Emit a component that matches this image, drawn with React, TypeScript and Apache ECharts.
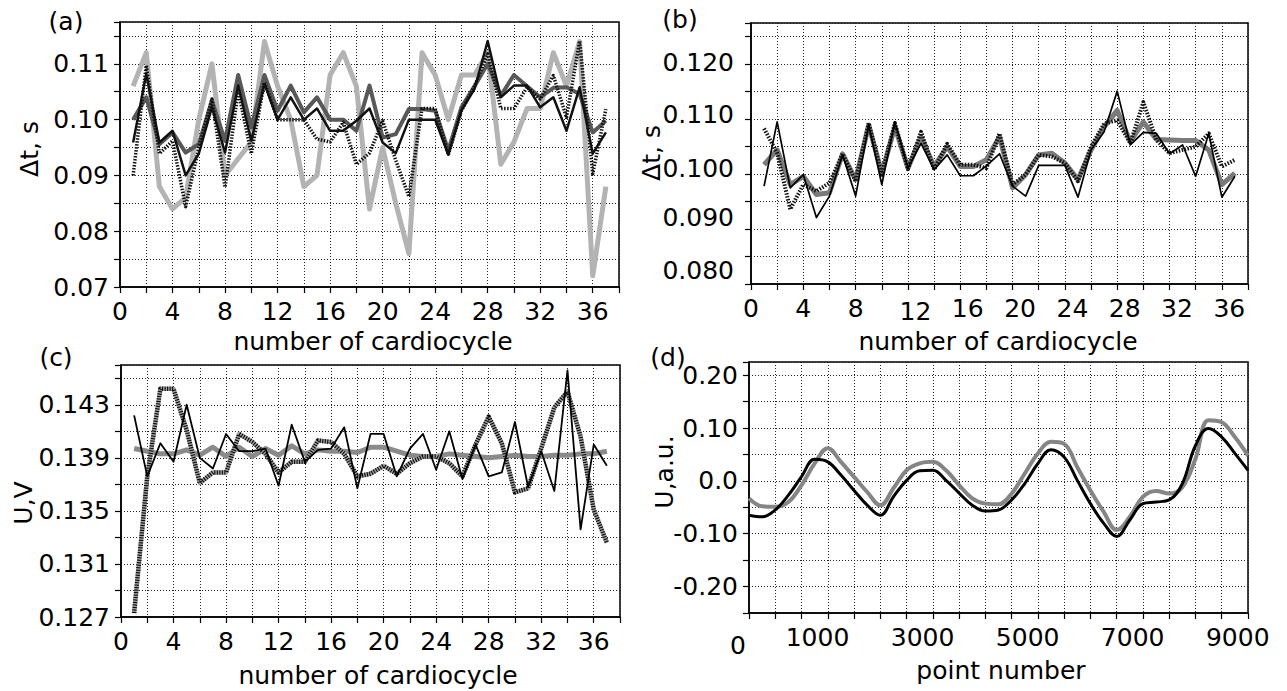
import React, { useEffect, useRef } from "react";
import * as echarts from "echarts";

// ---------- data ----------
const CYCLES = [1, 2, 3, 4, 5, 6, 7, 8, 9, 10, 11, 12, 13, 14, 15, 16, 17, 18, 19, 20, 21, 22, 23, 24, 25, 26, 27, 28, 29, 30, 31, 32, 33, 34, 35, 36, 37];

// panel (a): Δt, s
const A_LIGHT = [0.106, 0.112, 0.088, 0.084, 0.086, 0.100, 0.110, 0.090, 0.093, 0.096, 0.114, 0.106, 0.100, 0.088, 0.090, 0.108, 0.112, 0.106, 0.084, 0.095, 0.085, 0.076, 0.112, 0.108, 0.100, 0.108, 0.108, 0.112, 0.092, 0.096, 0.102, 0.102, 0.112, 0.106, 0.114, 0.072, 0.088];
const A_DARK = [0.100, 0.104, 0.0956, 0.0977, 0.0941, 0.0956, 0.1034, 0.0962, 0.108, 0.0986, 0.108, 0.1016, 0.1061, 0.1013, 0.104, 0.100, 0.100, 0.098, 0.1061, 0.0968, 0.0974, 0.1019, 0.1019, 0.1016, 0.0945, 0.1022, 0.106, 0.110, 0.1043, 0.108, 0.106, 0.104, 0.1057, 0.1058, 0.1046, 0.0977, 0.0998];
const A_BLACK = [0.0959, 0.1082, 0.0959, 0.098, 0.090, 0.0939, 0.1022, 0.0941, 0.1061, 0.0962, 0.1064, 0.100, 0.104, 0.100, 0.102, 0.098, 0.098, 0.0998, 0.102, 0.0959, 0.094, 0.100, 0.100, 0.100, 0.0937, 0.1016, 0.1055, 0.1141, 0.104, 0.1061, 0.1061, 0.1022, 0.104, 0.098, 0.1058, 0.0939, 0.0977];
const A_DOTTED = [0.090, 0.1097, 0.0939, 0.0962, 0.0844, 0.095, 0.1037, 0.0879, 0.1052, 0.0939, 0.1067, 0.100, 0.100, 0.100, 0.0965, 0.096, 0.0995, 0.092, 0.094, 0.0998, 0.0927, 0.0862, 0.102, 0.102, 0.0937, 0.1016, 0.106, 0.1118, 0.102, 0.102, 0.1058, 0.1037, 0.1079, 0.1004, 0.1141, 0.0903, 0.1019];

// panel (b): Δt, s
const B_GRAY = [0.1017, 0.1044, 0.0981, 0.0996, 0.0963, 0.0966, 0.1037, 0.099, 0.1089, 0.1002, 0.1086, 0.1011, 0.1068, 0.1014, 0.105, 0.1014, 0.1014, 0.1026, 0.1068, 0.0975, 0.0999, 0.1035, 0.1038, 0.102, 0.099, 0.1044, 0.1086, 0.1116, 0.1059, 0.1095, 0.1063, 0.1062, 0.1061, 0.1061, 0.1044, 0.0981, 0.1002];
const B_BLACK = [0.0978, 0.1095, 0.0975, 0.0999, 0.0921, 0.096, 0.1035, 0.096, 0.1089, 0.0981, 0.1095, 0.1011, 0.1056, 0.1008, 0.1035, 0.0997, 0.0997, 0.1015, 0.1037, 0.0978, 0.096, 0.1016, 0.1016, 0.1016, 0.0958, 0.1044, 0.1077, 0.1151, 0.1053, 0.1076, 0.1074, 0.1037, 0.1053, 0.0996, 0.1074, 0.0958, 0.0996];
const B_DOTTED = [0.1083, 0.1038, 0.0936, 0.0981, 0.0969, 0.0984, 0.1037, 0.0987, 0.1093, 0.0999, 0.1093, 0.1009, 0.1077, 0.1008, 0.1055, 0.1017, 0.1017, 0.1011, 0.1074, 0.0981, 0.0999, 0.1035, 0.1032, 0.102, 0.0987, 0.105, 0.1092, 0.1098, 0.1056, 0.1131, 0.1062, 0.1038, 0.1044, 0.105, 0.1074, 0.1014, 0.1026];

// panel (c): U, V
const C_GRAY = [0.1397, 0.1395, 0.1393, 0.1393, 0.1396, 0.1392, 0.1398, 0.1391, 0.1398, 0.1391, 0.1397, 0.1392, 0.1399, 0.1393, 0.1396, 0.1395, 0.1395, 0.1394, 0.1398, 0.1398, 0.1395, 0.1392, 0.1391, 0.1391, 0.1393, 0.1392, 0.1391, 0.139, 0.1391, 0.1392, 0.1391, 0.1391, 0.1392, 0.1392, 0.1393, 0.1393, 0.1395];
const C_BLACK = [0.1422, 0.1376, 0.1401, 0.1387, 0.143, 0.139, 0.1382, 0.1408, 0.1395, 0.1395, 0.1397, 0.1369, 0.1415, 0.1387, 0.1396, 0.1397, 0.1413, 0.1367, 0.1408, 0.1408, 0.1376, 0.1397, 0.1408, 0.1381, 0.141, 0.1374, 0.14, 0.1376, 0.1379, 0.1417, 0.1368, 0.1395, 0.1365, 0.1456, 0.1336, 0.14, 0.1384];
const C_DOTTED = [0.1273, 0.1376, 0.1442, 0.1442, 0.1411, 0.1371, 0.1379, 0.1379, 0.1408, 0.1402, 0.1393, 0.1379, 0.1387, 0.1387, 0.1403, 0.1402, 0.1393, 0.1376, 0.1378, 0.1384, 0.1378, 0.1386, 0.1391, 0.1391, 0.1386, 0.1376, 0.14, 0.1421, 0.1401, 0.1364, 0.1367, 0.1397, 0.1428, 0.144, 0.1406, 0.1351, 0.1326];

// panel (d): U, a.u. versus point number
const D_POINTS = [0, 250, 500, 750, 1000, 1250, 1500, 1750, 2000, 2250, 2500, 2750, 3000, 3250, 3500, 3750, 4000, 4250, 4500, 4750, 5000, 5250, 5500, 5750, 6000, 6250, 6500, 6750, 7000, 7250, 7500, 7750, 8000, 8250, 8500, 8750, 9000, 9250, 9500];
const D_GRAY = [-0.033, -0.048, -0.049, -0.040, -0.008, 0.033, 0.062, 0.036, 0.0075, -0.021, -0.046, -0.014, 0.020, 0.033, 0.036, 0.020, -0.008, -0.033, -0.043, -0.044, -0.024, 0.014, 0.052, 0.074, 0.070, 0.026, -0.018, -0.058, -0.093, -0.068, -0.030, -0.019, -0.024, -0.012, 0.042, 0.115, 0.111, 0.083, 0.048];
const D_BLACK = [-0.065, -0.068, -0.055, -0.027, 0.008, 0.041, 0.036, 0.011, -0.018, -0.046, -0.065, -0.030, 0.001, 0.019, 0.020, 0.001, -0.023, -0.046, -0.057, -0.055, -0.036, -0.005, 0.033, 0.059, 0.045, 0.001, -0.043, -0.080, -0.105, -0.074, -0.043, -0.040, -0.036, -0.005, 0.067, 0.099, 0.083, 0.052, 0.020];

// tick labels
const CYCLE_LABELS = [0, 4, 8, 12, 16, 20, 24, 28, 32, 36];
const A_Y_LABELS = [0.07, 0.08, 0.09, 0.10, 0.11];
const B_Y_LABELS = [0.08, 0.09, 0.10, 0.11, 0.12];
const C_Y_LABELS = [0.127, 0.131, 0.135, 0.139, 0.143];
const D_Y_LABELS = [-0.2, -0.1, 0, 0.1, 0.2];
const D_X_LABELS = [0, 1000, 3000, 5000, 7000, 9000];

// (c) axis: ticks must start at a multiple of the 0.002 step, so the axis runs 0.001 lower
const C_SHIFT = 0.001;

// ---------- styling ----------
const FONT = '"DejaVu Sans", "Liberation Sans", sans-serif';
const FS = 25;
const GRIDS = [
  { left: 120, top: 22, width: 499, height: 265 },
  { left: 751, top: 23, width: 497, height: 261 },
  { left: 121, top: 365, width: 499, height: 252 },
  { left: 749, top: 362, width: 499, height: 251 },
];
// vertical shifts of panel (b) y labels (pixels up)
const B_LABEL_SHIFT = [14, 12, 6, 5, 2];

const near = (list: number[], v: number) => list.findIndex((t) => Math.abs(t - v) < 1e-7);

const axisLine = { show: true, onZero: false, lineStyle: { color: "#000", width: 1.5 } };
const axisTick = { show: true, inside: false, length: 6, lineStyle: { color: "#000", width: 1.2 } };
const splitLine = { show: true, lineStyle: { color: "#222", width: 1, type: [1, 2] } };
const labelBase = { fontSize: FS, fontFamily: FONT, color: "#000" };

function cycleAxis(gridIndex: number, rich?: boolean) {
  return {
    type: "value",
    gridIndex,
    min: 0,
    max: 38,
    interval: 2,
    axisLine,
    axisTick,
    splitLine,
    axisLabel: {
      ...labelBase,
      margin: 12,
      showMinLabel: true,
      showMaxLabel: true,
      formatter: (v: number) => {
        const i = near(CYCLE_LABELS, v);
        if (i < 0) return "";
        const s = String(CYCLE_LABELS[i]);
        if (!rich) return s;
        if (s === "12") return "{w12|" + s + "}";
        return s.length > 1 ? "{w|" + s + "}" : s;
      },
      rich: {
        w: { ...labelBase, padding: [0, 0, 0, 15] },
        w12: { ...labelBase, padding: [3, 0, 0, 15] },
      },
    },
  };
}

function yAxis(gridIndex: number, min: number, max: number, interval: number, formatter: any, margin: number, rich?: any) {
  return {
    type: "value",
    gridIndex,
    min,
    max,
    interval,
    axisLine,
    axisTick,
    splitLine,
    axisLabel: { ...labelBase, margin, formatter, rich, showMinLabel: true, showMaxLabel: true },
  };
}

function line(axis: number, xs: number[], ys: number[], lineStyle: any, z: number, smooth: any = false) {
  return {
    type: "line",
    xAxisIndex: axis,
    yAxisIndex: axis,
    data: xs.map((x, i) => [x, ys[i]]),
    showSymbol: false,
    symbol: "none",
    silent: true,
    smooth,
    z,
    lineStyle: { join: "round", ...lineStyle },
  };
}

function txt(text: string, x: number, y: number, rotate = false) {
  return {
    type: "text",
    x,
    y,
    rotation: rotate ? Math.PI / 2 : 0,
    silent: true,
    style: {
      text,
      fontSize: FS,
      fontFamily: FONT,
      fill: "#000",
      align: "center",
      verticalAlign: "middle",
      textAlign: "center",
      textVerticalAlign: "middle",
    },
  };
}

export default function App() {
  const ref = useRef<HTMLDivElement>(null);

  useEffect(() => {
    if (!ref.current) return;
    const chart = echarts.init(ref.current, null, { renderer: "svg" });

    const bRich: any = {};
    B_Y_LABELS.forEach((_, i) => {
      bRich["s" + i] = { ...labelBase, padding: [0, 0, B_LABEL_SHIFT[i] * 2, 0] };
    });

    const option: any = {
      animation: false,
      backgroundColor: "#fff",
      grid: GRIDS.map((g) => ({ ...g, show: true, borderColor: "#000", borderWidth: 1.5, backgroundColor: "transparent" })),
      xAxis: [
        cycleAxis(0),
        cycleAxis(1, true),
        cycleAxis(2),
        {
          type: "value",
          gridIndex: 3,
          min: 0,
          max: 9500,
          interval: 500,
          axisLine,
          axisTick,
          splitLine,
          axisLabel: {
            ...labelBase,
            margin: 12,
            showMinLabel: true,
            showMaxLabel: true,
            formatter: (v: number) => {
              const i = near(D_X_LABELS, v);
              if (i < 0) return "";
              return D_X_LABELS[i] === 0 ? "{z|0}" : "{n|" + D_X_LABELS[i] + "}";
            },
            rich: {
              z: { ...labelBase, padding: [8, 22, 0, 0] },
              n: { ...labelBase, padding: [0, 0, 0, 32] },
            },
          },
        },
      ],
      yAxis: [
        yAxis(0, 0.07, 0.1175, 0.005, (v: number) => {
          const i = near(A_Y_LABELS, v);
          return i < 0 ? "" : A_Y_LABELS[i].toFixed(2);
        }, 11),
        yAxis(1, 0.08, 0.1275, 0.005, (v: number) => {
          const i = near(B_Y_LABELS, v);
          return i < 0 ? "" : "{s" + i + "|" + B_Y_LABELS[i].toFixed(3) + "}";
        }, 17, bRich),
        yAxis(2, 0.127 - C_SHIFT, 0.146 - C_SHIFT, 0.002, (v: number) => {
          const i = near(C_Y_LABELS, v + C_SHIFT);
          return i < 0 ? "" : C_Y_LABELS[i].toFixed(3);
        }, 11),
        yAxis(3, -0.25, 0.225, 0.05, (v: number) => {
          const i = near(D_Y_LABELS, v);
          if (i < 0) return "";
          return D_Y_LABELS[i] === 0 ? "0.0" : D_Y_LABELS[i].toFixed(2);
        }, 11),
      ],
      series: [
        // (a)
        line(0, CYCLES, A_LIGHT, { color: "#b3b3b3", width: 5 }, 2),
        line(0, CYCLES, A_DARK, { color: "#585858", width: 4 }, 3),
        line(0, CYCLES, A_DOTTED, { color: "#111", width: 3.5, type: [1.5, 1.5] }, 4),
        line(0, CYCLES, A_BLACK, { color: "#111", width: 2.5 }, 5),
        // (b)
        line(1, CYCLES, B_GRAY, { color: "#7a7a7a", width: 5 }, 2),
        line(1, CYCLES, B_DOTTED, { color: "#111", width: 4, type: [1.5, 1.5] }, 3),
        line(1, CYCLES, B_BLACK, { color: "#000", width: 1.7 }, 4),
        // (c)
        line(2, CYCLES, C_GRAY.map((v) => v - C_SHIFT), { color: "#8a8a8a", width: 5 }, 2),
        line(2, CYCLES, C_DOTTED.map((v) => v - C_SHIFT), { color: "#9a9a9a", width: 4.5 }, 3),
        line(2, CYCLES, C_DOTTED.map((v) => v - C_SHIFT), { color: "#000", width: 4.5, type: [1, 1.5] }, 4),
        line(2, CYCLES, C_BLACK.map((v) => v - C_SHIFT), { color: "#000", width: 1.8 }, 5),
        // (d)
        line(3, D_POINTS, D_GRAY, { color: "#858585", width: 4 }, 2, 0.4),
        line(3, D_POINTS, D_BLACK, { color: "#000", width: 3 }, 3, 0.4),
      ],
      graphic: [
        txt("(a)", 66, 21),
        txt("(b)", 680, 19),
        txt("(c)", 56, 357),
        txt("(d)", 668, 357),
        txt("Δt, s", 29.5, 149, true),
        txt("Δt, s", 651, 153, true),
        txt("U,V", 23, 503, true),
        txt("U,a.u.", 664, 472, true),
        txt("number of cardiocycle", 373, 341),
        txt("number of cardiocycle", 998, 341),
        txt("number of cardiocycle", 378, 675),
        txt("point number", 1001, 670),
      ],
    };

    chart.setOption(option);
    return () => chart.dispose();
  }, []);

  return (
    <div
      ref={ref}
      style={{ position: "absolute", left: 0, top: 0, width: 1287, height: 691, background: "#fff" }}
    />
  );
}
